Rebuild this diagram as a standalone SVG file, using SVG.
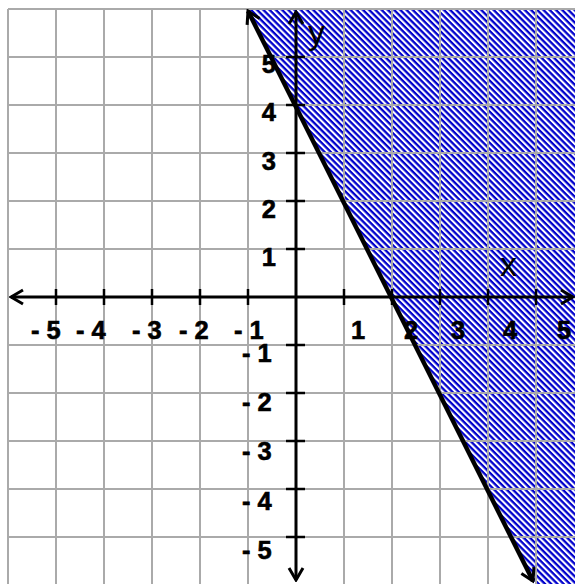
<svg xmlns="http://www.w3.org/2000/svg" width="575" height="584" viewBox="0 0 575 584">
  <defs>
    <pattern id="hatch" patternUnits="userSpaceOnUse" width="4.4" height="4.4" patternTransform="rotate(45)">
      <rect x="0" y="0" width="4.4" height="4.4" fill="#ffffff"/>
      <rect x="0" y="0" width="4.4" height="2.3" fill="#0000cc"/>
    </pattern>
    <marker id="chev" viewBox="-14 -9 16 18" markerWidth="16" markerHeight="18" refX="0" refY="0" orient="auto-start-reverse" markerUnits="userSpaceOnUse">
      <path d="M-12,-7 L0,0 L-12,7" fill="none" stroke="#000" stroke-width="3" stroke-linejoin="miter"/>
    </marker>
    <style>
      .grid line { stroke: #aaaaaa; stroke-width: 2; }
      .axis { stroke: #000; stroke-width: 3; fill: none; }
      .tick { stroke: #000; stroke-width: 2.5; }
      .lbl { font-family: "Liberation Sans", Arial, sans-serif; font-weight: bold; font-size: 25.5px; fill: #000; stroke: #000; stroke-width: 0.6; }
      .var { font-family: "Liberation Sans", Arial, sans-serif; font-size: 34px; fill: #000; }
    </style>
  </defs>
  <rect width="575" height="584" fill="#ffffff"/>

  <g id="shading">
    <polygon points="248,9 575,9 575,584 534,584" fill="url(#hatch)"/>
  </g>

  <g id="grid" class="grid">
    <line x1="8" y1="9" x2="8" y2="584"/>
    <line x1="56" y1="9" x2="56" y2="584"/>
    <line x1="104" y1="9" x2="104" y2="584"/>
    <line x1="152" y1="9" x2="152" y2="584"/>
    <line x1="200" y1="9" x2="200" y2="584"/>
    <line x1="248" y1="9" x2="248" y2="584"/>
    <line x1="344" y1="9" x2="344" y2="584"/>
    <line x1="392" y1="9" x2="392" y2="584"/>
    <line x1="440" y1="9" x2="440" y2="584"/>
    <line x1="488" y1="9" x2="488" y2="584"/>
    <line x1="536" y1="9" x2="536" y2="584"/>
    <line x1="8" y1="9" x2="575" y2="9"/>
    <line x1="8" y1="57" x2="575" y2="57"/>
    <line x1="8" y1="105" x2="575" y2="105"/>
    <line x1="8" y1="153" x2="575" y2="153"/>
    <line x1="8" y1="201" x2="575" y2="201"/>
    <line x1="8" y1="249" x2="575" y2="249"/>
    <line x1="8" y1="345" x2="575" y2="345"/>
    <line x1="8" y1="393" x2="575" y2="393"/>
    <line x1="8" y1="441" x2="575" y2="441"/>
    <line x1="8" y1="489" x2="575" y2="489"/>
    <line x1="8" y1="537" x2="575" y2="537"/>
  </g>

  <g id="axes">
    <line class="axis" x1="11" y1="297" x2="573" y2="297" marker-start="url(#chev)" marker-end="url(#chev)"/>
    <line class="axis" x1="296" y1="12" x2="296" y2="580" marker-start="url(#chev)" marker-end="url(#chev)"/>
    <g id="ticks">
      <line class="tick" x1="56" y1="289" x2="56" y2="305"/>
      <line class="tick" x1="104" y1="289" x2="104" y2="305"/>
      <line class="tick" x1="152" y1="289" x2="152" y2="305"/>
      <line class="tick" x1="200" y1="289" x2="200" y2="305"/>
      <line class="tick" x1="248" y1="289" x2="248" y2="305"/>
      <line class="tick" x1="344" y1="289" x2="344" y2="305"/>
      <line class="tick" x1="392" y1="289" x2="392" y2="305"/>
      <line class="tick" x1="440" y1="289" x2="440" y2="305"/>
      <line class="tick" x1="488" y1="289" x2="488" y2="305"/>
      <line class="tick" x1="536" y1="289" x2="536" y2="305"/>
      <line class="tick" x1="286" y1="57" x2="305" y2="57"/>
      <line class="tick" x1="286" y1="105" x2="305" y2="105"/>
      <line class="tick" x1="286" y1="153" x2="305" y2="153"/>
      <line class="tick" x1="286" y1="201" x2="305" y2="201"/>
      <line class="tick" x1="286" y1="249" x2="305" y2="249"/>
      <line class="tick" x1="286" y1="345" x2="305" y2="345"/>
      <line class="tick" x1="286" y1="393" x2="305" y2="393"/>
      <line class="tick" x1="286" y1="441" x2="305" y2="441"/>
      <line class="tick" x1="286" y1="489" x2="305" y2="489"/>
      <line class="tick" x1="286" y1="537" x2="305" y2="537"/>
    </g>
  </g>

  <g id="boundary-line">
    <line x1="248" y1="11" x2="533" y2="581" stroke="#000" stroke-width="4.5" marker-start="url(#chev)" marker-end="url(#chev)"/>
  </g>

  <g id="labels">
    <text class="var" x="308" y="44">y</text>
    <text class="var" x="500" y="276">x</text>

    <text class="lbl" x="276" y="73" text-anchor="end">5</text>
    <text class="lbl" x="276" y="121" text-anchor="end">4</text>
    <text class="lbl" x="276" y="170" text-anchor="end">3</text>
    <text class="lbl" x="276" y="218" text-anchor="end">2</text>
    <text class="lbl" x="276" y="266" text-anchor="end">1</text>

    <text class="lbl" x="242" y="362">- 1</text>
    <text class="lbl" x="242" y="411">- 2</text>
    <text class="lbl" x="242" y="460">- 3</text>
    <text class="lbl" x="242" y="510">- 4</text>
    <text class="lbl" x="242" y="559">- 5</text>

    <text class="lbl" x="31" y="339">- 5</text>
    <text class="lbl" x="76" y="339">- 4</text>
    <text class="lbl" x="132" y="339">- 3</text>
    <text class="lbl" x="179" y="339">- 2</text>
    <text class="lbl" x="234" y="339">- 1</text>

    <text class="lbl" x="351" y="339">1</text>
    <text class="lbl" x="404" y="339">2</text>
    <text class="lbl" x="451" y="339">3</text>
    <text class="lbl" x="503" y="339">4</text>
    <text class="lbl" x="557" y="339">5</text>
  </g>
</svg>
